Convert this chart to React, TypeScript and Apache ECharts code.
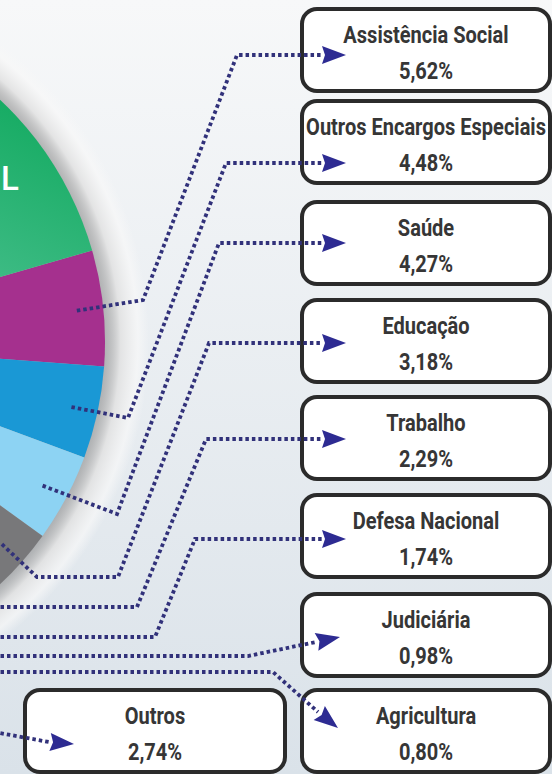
import React, { useEffect, useRef } from "react";
import * as echarts from "echarts";

// Functions shown in the boxes (share of the budget, %)
const categories = [
  "Assistência Social",
  "Outros Encargos Especiais",
  "Saúde",
  "Educação",
  "Trabalho",
  "Defesa Nacional",
  "Judiciária",
  "Agricultura",
  "Outros",
];
const shares = [5.62, 4.48, 4.27, 3.18, 2.29, 1.74, 0.98, 0.8, 2.74];
const shareLabels = ["5,62%", "4,48%", "4,27%", "3,18%", "2,29%", "1,74%", "0,98%", "0,80%", "2,74%"];
// Slices that lie outside the visible crop (estimated)
const hiddenNames = ["Encargos Especiais", "Previdência Social"];
const hiddenShares = [49.94, 23.96];
// Only the last letter of the green slice's label is visible in the crop
const greenLabel = "L";

const sliceColors = [
  "#a5308e",
  "#1a98d5",
  "#8dd3f3",
  "#78787a",
  "#f0a23a",
  "#e2574c",
  "#f2cf2a",
  "#8bc34a",
  "#b5b5b5",
  "#243f8f",
];

export default function App() {
  const ref = useRef<HTMLDivElement>(null);

  useEffect(() => {
    document.body.style.margin = "0";
    const chart = echarts.init(ref.current as HTMLDivElement, null, { renderer: "svg" });

    const CX = -227;
    const CY = 342;
    const R = 332;
    const START = 16;

    const names = [...categories, ...hiddenNames];
    const values = [...shares, ...hiddenShares];
    const total = values.reduce((a, b) => a + b, 0);

    const anchor = (i: number): number[] => {
      let cum = 0;
      for (let k = 0; k < i; k++) cum += values[k];
      const mid = START - ((cum + values[i] / 2) / total) * 360;
      const rad = (mid * Math.PI) / 180;
      return [CX + 0.92 * R * Math.cos(rad), CY - 0.92 * R * Math.sin(rad)];
    };

    const greenGrad = {
      type: "linear",
      x: 90,
      y: 100,
      x2: 0,
      y2: 280,
      global: true,
      colorStops: [
        { offset: 0, color: "#0ea85c" },
        { offset: 1, color: "#3dbb84" },
      ],
    };

    const pieData = names.map((n, i) => ({
      name: n,
      value: values[i],
      itemStyle: { color: i === names.length - 1 ? greenGrad : sliceColors[i] },
    }));

    // Layout of boxes and connectors
    const boxTops = [7, 99, 200, 298, 395, 493, 592, 688];
    const BX = 302;
    const BW = 248;
    const BH = 82;

    type Route = { start: number[] | null; pts: number[][]; tip: number[] };
    const routes: Route[] = [
      { start: anchor(0), pts: [[143, 300], [237, 55], [322, 55]], tip: [346, 55] },
      { start: anchor(1), pts: [[128, 418], [226, 163], [322, 163]], tip: [346, 163] },
      { start: anchor(2), pts: [[117, 514], [219, 243], [322, 243]], tip: [346, 243] },
      { start: anchor(3), pts: [[37, 577], [118, 577], [209, 343], [322, 343]], tip: [346, 343] },
      { start: null, pts: [[-6, 607], [137, 607], [206, 439], [322, 439]], tip: [346, 439] },
      { start: null, pts: [[-6, 637], [155, 637], [195, 539], [322, 539]], tip: [346, 539] },
      { start: null, pts: [[-6, 656], [248, 656], [316, 642]], tip: [340, 637] },
      { start: null, pts: [[-6, 672], [273, 672], [318, 712]], tip: [338, 728] },
      { start: null, pts: [[-6, 732], [49, 742]], tip: [74, 744] },
    ];

    const graphics: any[] = [];

    graphics.push({
      type: "text",
      x: 1,
      y: 178,
      z: 5,
      style: {
        text: greenLabel,
        fill: "#ffffff",
        fontSize: 33,
        fontFamily: "Roboto",
        fontWeight: 500,
        align: "left",
        verticalAlign: "middle",
      },
    });

    const textStyle = (text: string) => ({
      text,
      fill: "#363636",
      fontSize: 24,
      fontFamily: "Roboto",
      fontWeight: "bold",
      align: "center",
      verticalAlign: "middle",
    });

    const addBox = (x: number, y: number, w: number, h: number, title: string, val: string) => {
      graphics.push({
        type: "rect",
        z: 10,
        shape: { x, y, width: w, height: h, r: 15 },
        style: { fill: "#ffffff", stroke: "#2b2b2b", lineWidth: 4 },
      });
      const cx = x + w / 2;
      graphics.push({
        type: "text",
        z: 12,
        x: cx,
        y: y + 25,
        scaleX: 0.835,
        style: textStyle(title),
      });
      graphics.push({
        type: "text",
        z: 12,
        x: cx,
        y: y + 61,
        scaleX: 0.835,
        style: textStyle(val),
      });
    };

    for (let i = 0; i < 8; i++) {
      addBox(BX, boxTops[i] + 2, BW, BH, categories[i], shareLabels[i]);
    }
    addBox(25, 690, 260, BH, categories[8], shareLabels[8]);

    routes.forEach((rt) => {
      const pts = rt.start ? [rt.start, ...rt.pts] : rt.pts;
      const last = pts[pts.length - 1];
      const dx = rt.tip[0] - last[0];
      const dy = rt.tip[1] - last[1];
      const len = Math.sqrt(dx * dx + dy * dy);
      const ux = dx / len;
      const uy = dy / len;
      const bx = rt.tip[0] - 24 * ux;
      const by = rt.tip[1] - 24 * uy;
      const nx = -uy;
      const ny = ux;
      graphics.push({
        type: "polyline",
        z: 20,
        shape: { points: pts },
        style: {
          stroke: "#31317a",
          lineWidth: 3.8,
          lineDash: [3.5, 3],
          fill: null,
        },
      });
      graphics.push({
        type: "polygon",
        z: 21,
        shape: {
          points: [
            rt.tip,
            [bx + 9 * nx, by + 9 * ny],
            [bx + 3 * ux, by + 3 * uy],
            [bx - 9 * nx, by - 9 * ny],
          ],
        },
        style: { fill: "#2d2b92" },
      });
    });

    const glowOuter = R + 44;
    const f = R / glowOuter;

    chart.setOption({
      animation: false,
      backgroundColor: new echarts.graphic.LinearGradient(0, 0, 0, 1, [
        { offset: 0, color: "#f7f8f9" },
        { offset: 1, color: "#dae2e9" },
      ]),
      series: [
        {
          type: "pie",
          silent: true,
          z: 1,
          center: [CX, CY],
          radius: glowOuter,
          label: { show: false },
          labelLine: { show: false },
          itemStyle: { borderWidth: 0 },
          data: [
            {
              value: 1,
              itemStyle: {
                color: {
                  type: "radial",
                  x: 0.5,
                  y: 0.5,
                  r: 0.5,
                  colorStops: [
                    { offset: 0, color: "rgba(120,120,120,0.6)" },
                    { offset: f, color: "rgba(140,140,140,0.6)" },
                    { offset: f + (1 - f) * 0.35, color: "rgba(225,225,225,0.85)" },
                    { offset: f + (1 - f) * 0.75, color: "rgba(248,248,248,0.7)" },
                    { offset: 1, color: "rgba(248,248,248,0)" },
                  ],
                },
              },
            },
          ],
        },
        {
          type: "pie",
          z: 2,
          center: [CX, CY],
          radius: R,
          startAngle: START,
          clockwise: true,
          label: { show: false },
          labelLine: { show: false },
          emphasis: { disabled: true },
          itemStyle: { borderWidth: 0 },
          data: pieData,
        },
      ],
      graphic: graphics,
    });

    return () => chart.dispose();
  }, []);

  return <div ref={ref} style={{ width: 552, height: 774 }} />;
}
